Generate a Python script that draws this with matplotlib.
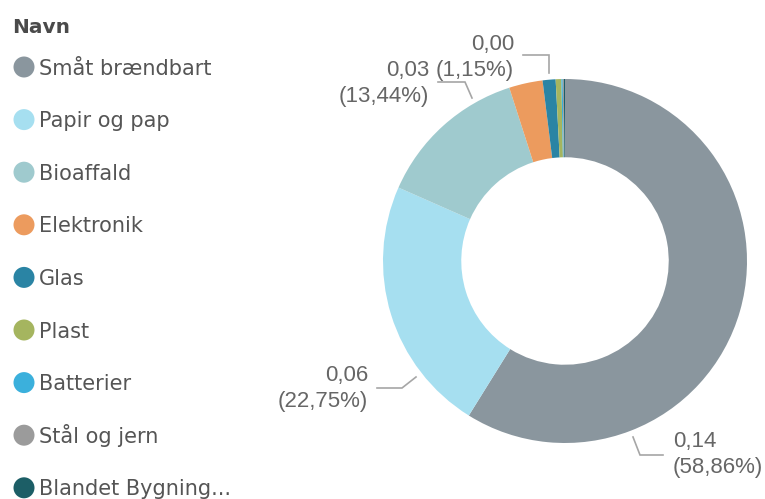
import matplotlib.pyplot as plt
from matplotlib.patches import Circle

W, H = 765, 499

# data
navne = ["Småt brændbart", "Papir og pap", "Bioaffald", "Elektronik", "Glas",
         "Plast", "Batterier", "Stål og jern", "Blandet Bygning..."]
andel = [58.86, 22.75, 13.44, 2.98, 1.15, 0.50, 0.12, 0.10, 0.10]  # procent
total = 0.245
farver = ["#8A969E", "#A6DFF0", "#9FCACE", "#EC9B5E", "#2A84A4",
          "#A5B55F", "#3BB0DC", "#9B9B9B", "#1C5E66"]

# labels shown on the donut (index -> leader line / text position in pixels)
etiketter = {
    0: dict(line=[(633, 437), (640, 455), (663, 455)], xy=(673, 441), ha='left'),
    1: dict(line=[(416, 377), (402, 388), (377, 388)], xy=(368, 375), ha='right'),
    2: dict(line=[(472, 98), (465, 82), (438, 82)], xy=(429, 70), ha='right'),
    4: dict(line=[(549, 73), (549, 55), (523, 55)], xy=(514, 44), ha='right'),
}


def Y(y):
    return H - y


def komma(v, fmt):
    return format(v, fmt).replace('.', ',')


fig = plt.figure(figsize=(W / 100, H / 100), dpi=100)
ax = fig.add_axes([0, 0, 1, 1])

R = 182
ax.pie(andel, colors=farver, startangle=90, counterclock=False, radius=R,
       center=(565, Y(261)), wedgeprops=dict(width=R * 0.43, linewidth=0))
ax.set_aspect('auto')
ax.set_xlim(0, W)
ax.set_ylim(0, H)
ax.axis('off')

tekstfarve = '#666666'
for i, lab in etiketter.items():
    xs = [p[0] for p in lab['line']]
    ys = [Y(p[1]) for p in lab['line']]
    ax.plot(xs, ys, color='#A6A6A6', lw=1.2, solid_joinstyle='miter')
    v = andel[i] / 100 * total
    x, y = lab['xy']
    ax.text(x, Y(y), komma(v, '.2f'), ha=lab['ha'], va='center',
            fontsize=16, family='Liberation Sans', color=tekstfarve)
    ax.text(x, Y(y + 26), '(' + komma(andel[i], '.2f') + '%)', ha=lab['ha'],
            va='center', fontsize=16, family='Liberation Sans', color=tekstfarve)

# legend
legendfarve = '#555555'
ax.text(12, Y(33), 'Navn', fontsize=14.5, fontweight='bold', color='#4A4A4A',
        ha='left', va='baseline')
y0, dy = 67, 52.6
for i, (navn, f) in enumerate(zip(navne, farver)):
    yc = y0 + i * dy
    ax.add_patch(Circle((24, Y(yc)), 10.5, color=f, lw=0))
    ax.text(39, Y(yc + 7.5), navn, fontsize=15, color=legendfarve,
            ha='left', va='baseline', fontweight='medium')

fig.savefig('out.png', dpi=100)
